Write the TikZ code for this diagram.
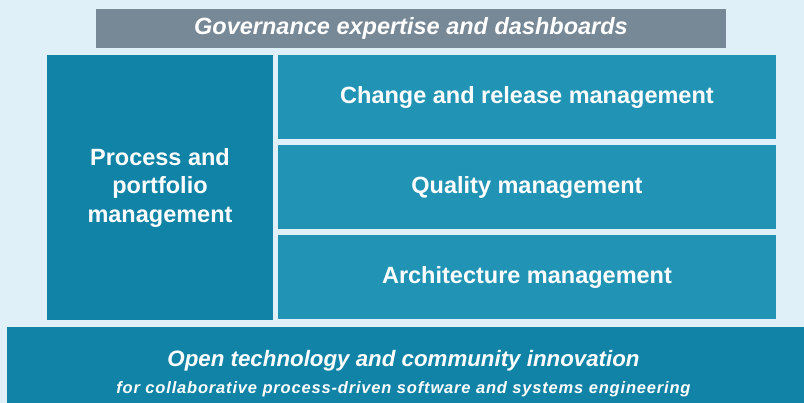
\documentclass[tikz,border=0pt]{standalone}
\usepackage{fontspec}
\setmainfont{Liberation Sans}
\definecolor{bgblue}{HTML}{DFF0F8}
\definecolor{govgray}{HTML}{778896}
\definecolor{darkteal}{HTML}{1083A6}
\definecolor{lightteal}{HTML}{2193B4}
\tikzset{
    block/.style={rectangle, draw=none, text=white, inner sep=0pt, align=center, font=\bfseries\fontsize{23.5}{28.5}\selectfont},
    govblock/.style={block, fill=govgray, font=\bfseries\itshape\fontsize{23.5}{28}\selectfont},
    procblock/.style={block, fill=darkteal},
    mgmtblock/.style={block, fill=lightteal, minimum width=498pt, minimum height=84pt}
}
\begin{document}
\begin{tikzpicture}[x=1pt,y=-1pt]
	\useasboundingbox (0,0) rectangle (804,403);
	\fill[bgblue] (0,0) rectangle (804,403);
	% top bar
	\node[govblock, minimum width=630pt, minimum height=39pt] (gov) at (411,28.5) {Governance expertise and dashboards};
	% left column
	\node[procblock, minimum width=226pt, minimum height=265pt] (proc) at (160,187.5) {Process and\\portfolio\\management};
	% right column
	\node[mgmtblock] (change) at (527,97) {Change and release management};
	\node[mgmtblock] (quality) at (527,187) {Quality management};
	\node[mgmtblock] (arch) at (527,277.5) {Architecture management};
	% foundation
	\node[procblock, minimum width=797pt, minimum height=76pt] (found) at (405.5,365) {};
	\node[block, font=\bfseries\itshape\fontsize{22.3}{27}\selectfont] (foundtext) at ([xshift=-2pt,yshift=-8.5pt]found.center)
		{Open technology and community innovation\\{\fontsize{16.5}{20}\selectfont\addfontfeature{LetterSpace=5}for collaborative process-driven software and systems engineering}};
\end{tikzpicture}
\end{document}
